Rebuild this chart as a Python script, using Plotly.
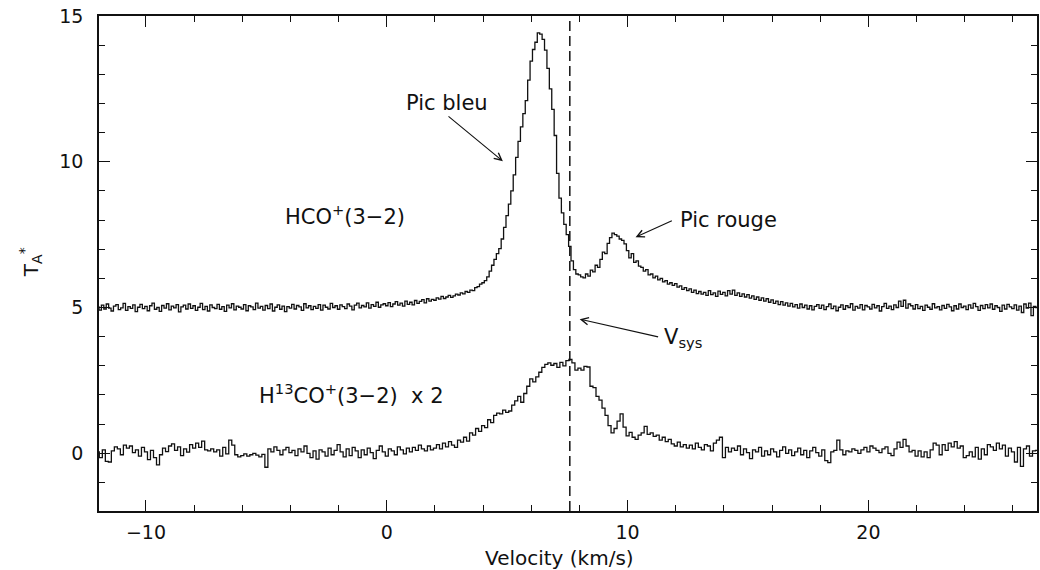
import numpy as np
import plotly.graph_objects as go

# ---------------- data ----------------
HCO_V0 = -12.0      # km/s, first channel
HCO_DV = 0.1        # km/s, channel width
hco_ta = [
    # -12 .. -11.1
    5.02, 4.91, 5.08, 4.95, 5.12, 4.98, 4.88, 5.05, 5.10, 4.93,
    4.99, 5.14, 4.90, 5.03, 4.97, 5.09, 4.86, 5.01, 5.11, 4.96,
    5.04, 4.89, 5.06, 5.15, 4.94, 5.00, 4.87, 5.07, 4.98, 5.13,
    4.92, 5.05, 4.99, 5.10, 4.85, 5.02, 5.08, 4.95, 5.12, 4.97,
    5.06, 4.90, 5.01, 5.14, 4.93, 5.04, 4.88, 5.09, 5.00, 4.96,
    5.11, 4.94, 5.03, 4.87, 5.08, 4.99, 5.13, 4.92, 5.05, 5.01,
    4.95, 5.10, 4.89, 5.06, 5.02, 4.93, 5.15, 4.98, 5.04, 4.91,
    5.07, 4.96, 5.12, 4.88, 5.01, 5.09, 4.94, 5.05, 4.86, 5.03,
    4.98, 5.11, 4.95, 5.07, 5.02, 4.90, 5.13, 4.99, 5.06, 4.93,
    5.04, 4.97, 5.10, 4.91, 5.08, 5.01, 4.95, 5.14, 5.00, 5.06,
    4.94, 5.09, 5.03, 4.96, 5.12, 5.05, 4.92, 5.08, 5.15, 4.99,
    5.07, 5.02, 5.16, 4.98, 5.10, 5.04, 5.18, 5.01, 5.09, 5.13,
    # 0 .. 0.9
    5.06, 5.17, 5.03, 5.12, 5.20, 5.08, 5.15, 5.05, 5.22, 5.11,
    5.18, 5.09, 5.24, 5.14, 5.21, 5.27, 5.16, 5.30, 5.22, 5.28,
    5.25, 5.33, 5.29, 5.38, 5.31, 5.36, 5.42, 5.35, 5.40, 5.46,
    5.43, 5.50, 5.47, 5.55, 5.52, 5.60, 5.58, 5.68, 5.72, 5.80,
    5.85, 5.92, 6.05, 6.25, 6.45, 6.65, 6.85, 7.02, 7.35, 7.75,
    8.15, 8.55, 9.00, 9.55, 10.15, 10.70, 11.20, 11.65, 12.10, 12.80,
    13.45, 13.85, 14.10, 14.42, 14.38, 14.20, 13.83, 13.20, 12.50, 11.80,
    10.90, 9.60, 8.75, 8.25, 7.85, 7.50, 7.10, 6.60, 6.30, 6.15,
    6.12, 6.05, 6.02, 6.15, 6.08, 6.28, 6.22, 6.45, 6.38, 6.65,
    6.90, 6.85, 7.20, 7.40, 7.55, 7.50, 7.45, 7.35, 7.30, 7.18,
    # 10 .. 10.9
    6.95, 6.70, 6.85, 6.55, 6.60, 6.42, 6.38, 6.25, 6.30, 6.12,
    6.15, 6.02, 6.08, 5.95, 6.00, 5.88, 5.92, 5.80, 5.85, 5.76,
    5.82, 5.70, 5.74, 5.62, 5.68, 5.58, 5.64, 5.52, 5.60, 5.48,
    5.55, 5.46, 5.52, 5.42, 5.58, 5.44, 5.50, 5.38, 5.56, 5.45,
    5.52, 5.40, 5.58, 5.46, 5.60, 5.42, 5.50, 5.38, 5.47, 5.36,
    5.44, 5.32, 5.40, 5.28, 5.36, 5.25, 5.33, 5.22, 5.30, 5.18,
    5.26, 5.14, 5.22, 5.10, 5.20, 5.08, 5.16, 5.05, 5.14, 5.02,
    5.10, 4.98, 5.12, 5.00, 5.08, 4.95, 5.06, 4.92, 5.04, 5.10,
    4.97, 5.08, 4.93, 5.03, 5.12, 4.96, 5.05, 4.89, 5.01, 5.09,
    4.94, 5.06, 5.00, 5.13, 4.91, 5.04, 4.98, 5.10, 4.92, 5.07,
    # 20 .. 20.9
    5.02, 4.95, 5.11, 4.99, 5.06, 4.88, 5.03, 5.14, 4.97, 5.05,
    4.93, 5.09, 5.00, 5.22, 5.04, 5.25, 4.98, 5.12, 5.06, 4.95,
    5.10, 4.96, 5.04, 4.90, 5.08, 5.01, 4.94, 5.13, 4.99, 5.03,
    4.92, 5.07, 4.97, 5.11, 5.02, 4.89, 5.06, 4.95, 5.12, 5.00,
    5.05, 4.93, 5.09, 4.98, 5.14, 5.03, 4.90, 5.07, 4.96, 5.10,
    4.99, 5.12, 4.94, 5.06, 5.00, 4.87, 5.08, 4.95, 5.11, 5.02,
    4.96, 5.09, 4.91, 5.05, 4.83, 5.12, 4.98, 5.15, 4.72, 5.04,
    5.00,
]

H13_V0 = -12.0
H13_DV = 0.125
h13_ta_x2 = [
    0.05, -0.15, 0.12, -0.28, -0.30, 0.08, 0.22, 0.15,
    -0.05, 0.28, 0.18, 0.25, 0.02, 0.12, -0.10, 0.20,
    0.05, -0.22, 0.10, -0.15, -0.40, -0.05, 0.18, 0.06,
    0.25, 0.32, 0.10, 0.22, -0.08, 0.15, 0.04, 0.30,
    0.18, 0.35, 0.20, 0.42, 0.12, 0.08, 0.15, 0.05,
    0.12, -0.10, 0.20, -0.02, 0.45, 0.28, -0.05, -0.12,
    -0.08, -0.02, -0.10, -0.05, 0.00, -0.06, -0.12, -0.04,
    -0.48, 0.15, 0.05, 0.22, 0.10, -0.05, 0.12, 0.20,
    0.02, 0.10, -0.08, 0.15, 0.05, 0.25, 0.00, -0.15,
    0.08, -0.20, 0.12, 0.05, -0.10, 0.18, -0.05, 0.10,
    0.30, 0.05, -0.12, 0.15, -0.08, 0.20, 0.08, -0.15,
    0.12, -0.05, 0.18, 0.02, -0.18, 0.10, 0.25, 0.05,
    # 0 ..
    -0.10, 0.15, 0.08, -0.05, 0.22, 0.12, -0.02, 0.18,
    0.05, 0.20, 0.10, 0.28, 0.15, 0.08, 0.25, 0.12,
    0.18, 0.30, 0.15, 0.35, 0.22, 0.40, 0.28, 0.20,
    0.45, 0.38, 0.55, 0.42, 0.70, 0.62, 0.85, 0.75,
    0.95, 0.88, 1.15, 1.05, 1.30, 1.38, 1.35, 1.48,
    1.40, 1.45, 1.65, 1.80, 1.95, 1.75, 2.05, 2.30,
    2.55, 2.45, 2.62, 2.78, 2.95, 3.05, 3.10, 3.02,
    3.08, 2.95, 3.12, 3.00, 3.18, 3.22, 3.10, 2.85,
    2.92, 2.85, 2.98, 2.96, 2.30, 2.25, 1.95, 1.82,
    1.55, 1.30, 0.95, 0.70, 0.85, 1.10, 1.35, 0.90,
    # 10 ..
    0.60, 0.72, 0.55, 0.48, 0.62, 0.70, 0.92, 0.65,
    0.70, 0.58, 0.62, 0.45, 0.55, 0.40, 0.48, 0.32,
    0.25, 0.38, 0.22, 0.30, 0.18, 0.28, 0.15, 0.35,
    0.20, 0.12, 0.30, 0.25, 0.08, 0.35, 0.45, 0.55,
    -0.15, 0.20, 0.05, 0.18, 0.10, 0.25, -0.05, 0.15,
    0.02, -0.18, 0.12, 0.05, 0.20, -0.10, 0.08, -0.05,
    0.15, 0.05, -0.12, 0.10, 0.22, 0.00, 0.12, -0.08,
    0.05, 0.18, -0.05, 0.10, -0.15, 0.08, 0.20, 0.02,
    -0.10, 0.12, -0.25, -0.32, 0.05, 0.10, 0.45, 0.12,
    -0.05, 0.08, 0.05, 0.15, 0.10, 0.00, 0.12, 0.20,
    # 20 ..
    0.05, 0.25, 0.18, 0.10, 0.02, 0.15, 0.22, 0.00,
    -0.08, 0.15, 0.38, 0.20, 0.48, 0.25, 0.05, 0.10,
    -0.10, 0.08, -0.12, 0.05, -0.15, 0.12, 0.35, 0.28,
    -0.05, 0.30, 0.10, 0.35, 0.22, 0.40, 0.18, 0.25,
    -0.15, -0.08, 0.05, -0.12, 0.20, -0.20, 0.15, -0.05,
    0.30, 0.22, 0.10, 0.35, 0.15, 0.28, -0.10, 0.18,
    0.05, -0.30, 0.20, -0.45, 0.15, 0.25, -0.10, 0.08,
    0.10,
]

V_SYS = 7.6
X_RANGE = [-11.95, 27.0]
Y_RANGE = [-1.98, 15.0]

# ---------------- figure ----------------
v_hco = HCO_V0 + HCO_DV * np.arange(len(hco_ta))
v_h13 = H13_V0 + H13_DV * np.arange(len(h13_ta_x2))

FONT = "DejaVu Sans, Verdana, sans-serif"
INK = "#111111"

W, H = 1040, 570
L, R, T, B = 99, 1, 16, 59
pw, ph = W - L - R, H - T - B

fig = go.Figure()
fig.add_trace(go.Scatter(x=v_hco, y=hco_ta, mode="lines",
                         line=dict(color=INK, width=1.3, shape="hvh"),
                         showlegend=False, hoverinfo="skip"))
fig.add_trace(go.Scatter(x=v_h13, y=h13_ta_x2, mode="lines",
                         line=dict(color=INK, width=1.3, shape="hvh"),
                         showlegend=False, hoverinfo="skip"))

fig.add_shape(type="line", xref="x", yref="paper", x0=V_SYS, x1=V_SYS, y0=0, y1=1,
              line=dict(color=INK, width=1.5, dash="10px,5px"))

ann_font = dict(family=FONT, size=21, color=INK)
ax_font = dict(family=FONT, size=19, color=INK)
title_font = dict(family=FONT, size=20, color=INK)


def arrow(tip, tail):
    fig.add_annotation(x=tip[0], y=tip[1], ax=tail[0], ay=tail[1],
                       xref="x", yref="y", axref="x", ayref="y",
                       text="", showarrow=True, arrowhead=5, arrowsize=1.3,
                       arrowwidth=1.1, arrowcolor=INK)


def label(x, y, text, xanchor="left"):
    fig.add_annotation(x=x, y=y, xref="x", yref="y", text=text, showarrow=False,
                       xanchor=xanchor, yanchor="middle", font=ann_font)


label(2.5, 12.0, "Pic bleu", xanchor="center")
arrow((4.82, 10.02), (2.5, 11.6))
label(12.1, 8.0, "Pic rouge")
arrow((10.33, 7.41), (11.9, 8.0))
label(-4.33, 8.17, "HCO<sup>+</sup>(3\u22122)")
label(11.41, 3.95, "V<sub>sys</sub>")
arrow((8.01, 4.6), (11.33, 3.98))
label(-5.4, 2.03, "H<sup>13</sup>CO<sup>+</sup>(3\u22122)  x 2")

# axis titles placed at pixel positions of the reference
fig.add_annotation(x=(560 - L) / pw, y=-(558 - (H - B)) / ph, xref="paper", yref="paper",
                   text="Velocity (km/s)", showarrow=False,
                   xanchor="center", yanchor="middle", font=title_font)
fig.add_annotation(x=(30 - L) / pw, y=1 - (262 - T) / ph, xref="paper", yref="paper",
                   text="T<sub>A</sub><sup>*</sup>", showarrow=False, textangle=-90,
                   xanchor="center", yanchor="middle", font=title_font)

axis_common = dict(showline=True, linecolor=INK, linewidth=1.5, mirror="ticks",
                   ticks="inside", tickcolor=INK, tickwidth=1.3, ticklen=11,
                   showgrid=False, zeroline=False, tickfont=ax_font)

fig.update_xaxes(range=X_RANGE, tick0=0, dtick=10, ticklabelstandoff=3,
                 minor=dict(ticks="inside", ticklen=6, dtick=2, tick0=0,
                            tickcolor=INK, tickwidth=1.2, showgrid=False),
                 **axis_common)
fig.update_yaxes(range=Y_RANGE, tick0=0, dtick=5, ticklabelstandoff=10,
                 minor=dict(ticks="inside", ticklen=6, dtick=1, tick0=0,
                            tickcolor=INK, tickwidth=1.2, showgrid=False),
                 **axis_common)

fig.update_layout(width=W, height=H, margin=dict(l=L, r=R, t=T, b=B),
                  paper_bgcolor="white", plot_bgcolor="white", font=ax_font)

fig.write_html("out.html")
